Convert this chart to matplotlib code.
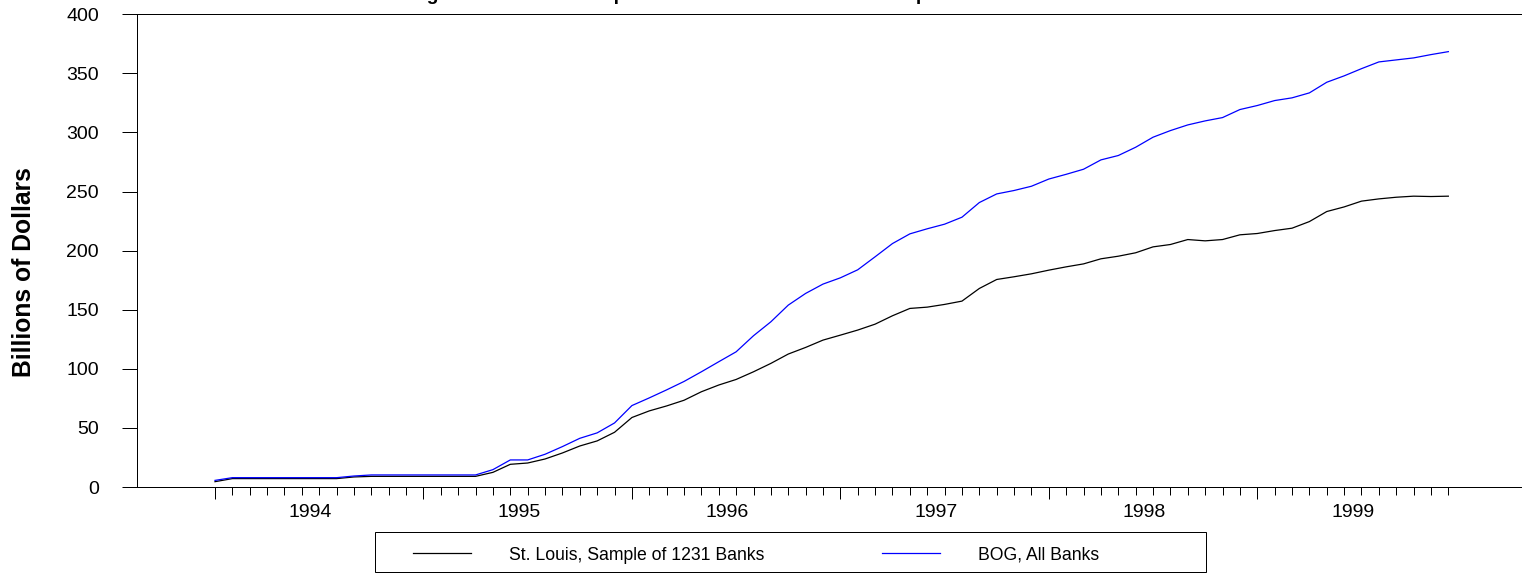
import matplotlib
matplotlib.use("Agg")
import matplotlib.pyplot as plt
from matplotlib.patches import Rectangle

plt.rcParams['font.family'] = ['Liberation Sans', 'DejaVu Sans']

# ---- data ----
months = list(range(72))  # monthly, Jan 1994 .. Dec 1999
year_labels = ['1994', '1995', '1996', '1997', '1998', '1999']

st_louis = [4.5, 7.1, 7.1, 7.1, 7.1, 7.1, 7.1, 7.1, 8.5, 9.0,
            9.0, 9.0, 9.0, 9.0, 9.0, 9.0, 12.4, 19.2, 20.3, 23.7,
            28.8, 34.7, 39.0, 46.3, 58.8, 64.4, 68.6, 73.4, 80.6, 86.3,
            91.0, 97.5, 104.6, 112.5, 118.1, 124.3, 128.5, 132.8, 137.8, 144.9,
            151.1, 152.2, 154.5, 157.3, 168.0, 175.6, 177.9, 180.4, 183.5, 186.3,
            188.8, 193.1, 195.3, 198.2, 203.2, 205.2, 209.4, 208.3, 209.4, 213.4,
            214.5, 217.0, 219.0, 224.6, 233.1, 237.0, 241.9, 243.8, 245.2, 246.1,
            245.8, 246.1]

bog = [5.6, 7.9, 7.9, 7.9, 7.9, 7.9, 7.9, 7.9, 9.3, 10.2,
       10.2, 10.2, 10.2, 10.2, 10.2, 10.2, 14.7, 22.9, 22.9, 27.7,
       34.2, 41.2, 45.8, 54.2, 68.9, 75.4, 82.2, 89.3, 97.5, 106.0,
       114.4, 128.0, 139.8, 153.9, 163.8, 171.7, 177.0, 183.8, 194.8, 206.0,
       214.2, 218.5, 222.4, 228.3, 240.7, 248.0, 250.9, 254.5, 260.6, 264.6,
       268.9, 276.8, 280.5, 287.5, 296.0, 301.6, 306.4, 309.8, 312.6, 319.4,
       322.8, 327.0, 329.3, 333.5, 342.5, 347.9, 354.0, 359.7, 361.4, 363.1,
       365.9, 368.4]

series_names = ['St. Louis, Sample of 1231 Banks', 'BOG, All Banks']
title_text = 'Cumulative Change in Transaction Deposits Reclassified into the Sweep Accounts'

# ---- figure ----
W, H = 1522, 573
fig = plt.figure(figsize=(W / 100, H / 100), dpi=100)

def fx(px):
    return px / W

def fy(py):
    return 1 - py / H

ax = fig.add_axes([fx(137), fy(487), fx(1522) - fx(137), fy(14.3) - fy(487)])

l1, = ax.plot(months, st_louis, color='black', lw=0.9)
l2, = ax.plot(months, bog, color='#0000ff', lw=0.9)

ax.set_ylim(0, 400)
ax.set_xlim(-4.49, 75.24)
ax.set_yticks(range(0, 401, 50))
ax.tick_params(axis='y', direction='out', length=10.8, width=0.72,
               labelsize=14, pad=16.6, colors='black')

ax.set_xticks([0, 12, 24, 36, 48, 60])
ax.set_xticks(months, minor=True)
ax.tick_params(axis='x', which='major', direction='out', length=8.6, width=0.72,
               labelbottom=False)
ax.tick_params(axis='x', which='minor', direction='out', length=5.8, width=0.72)

for s in ['left', 'top', 'bottom']:
    ax.spines[s].set_linewidth(0.72)
    ax.spines[s].set_color('black')
ax.spines['right'].set_visible(False)

sec = ax.secondary_xaxis('bottom')
sec.set_xticks([5.5 + 12 * k for k in range(len(year_labels))], labels=year_labels)
sec.tick_params(length=0, pad=12.5, labelsize=14)
sec.spines['bottom'].set_visible(False)

fig.text(fx(24), fy(272), 'Billions of Dollars', rotation=90, fontsize=17.7,
         fontweight='bold', ha='center', va='center')

fig.text(fx(271), fy(0.5), title_text, fontsize=13.8, fontweight='bold',
         ha='left', va='baseline')

leg = fig.legend([l1, l2], series_names, ncol=2, frameon=False,
                 loc='center left', bbox_to_anchor=(fx(413), fy(555)),
                 bbox_transform=fig.transFigure, fontsize=12.7,
                 handlelength=3.3, handletextpad=2.16, columnspacing=6.65,
                 borderpad=0, borderaxespad=0)

fig.patches.append(Rectangle((fx(375), fy(572)), fx(1206) - fx(375), fy(532) - fy(572),
                             transform=fig.transFigure, fill=False,
                             edgecolor='black', lw=0.72))

fig.savefig('out.png', dpi=100)
